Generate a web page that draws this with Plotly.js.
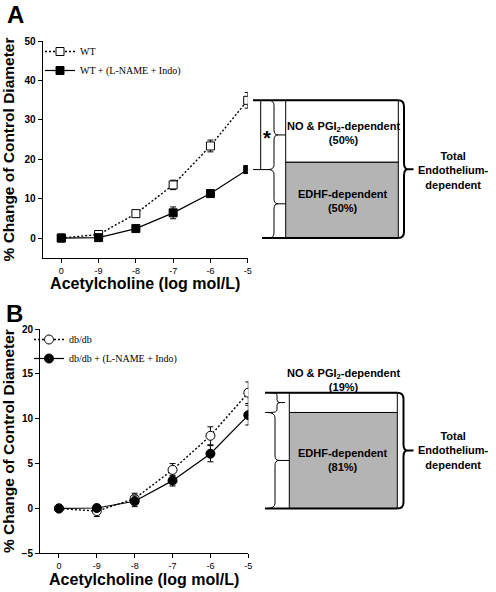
<!DOCTYPE html>
<html><head><meta charset="utf-8">
<script src="https://cdn.plot.ly/plotly-3.0.1.min.js"></script>
<style>body{margin:0;background:#fff}</style>
</head><body><div id="chart" style="width:496px;height:592px"></div>
<script>
// ---- data ----
const doseLabels = ['0', '-9', '-8', '-7', '-6', '-5'];
const wtControl = [0, 0.9, 6.2, 13.5, 23.4, 35.0];
const wtControlErr = [0.3, 0.5, 0.8, 1.2, 1.5, 2.0];
const wtBlocked = [0, 0.1, 2.4, 6.4, 11.3, 17.4];
const wtBlockedErr = [0.2, 0.3, 0.5, 1.5, 1.0, 0.9];
const dbControl = [0, -0.3, 1.1, 4.3, 8.1, 12.9];
const dbControlErr = [0.2, 0.6, 0.6, 0.7, 1.0, 1.2];
const dbBlocked = [0, 0.05, 0.8, 3.1, 6.1, 10.4];
const dbBlockedErr = [0.2, 0.3, 0.6, 0.6, 0.9, 1.1];
const seriesNames = ['WT', 'WT + (L-NAME + Indo)', 'db/db', 'db/db + (L-NAME + Indo)'];
// schematic: total response, drawn split level between the two components, percentages
const schemeTotal = [wtControl[5], dbControl[5]];
const schemeSplit = [19.3, 10.7];
const noPgiPct = ['50%', '19%'];
const edhfPct = ['50%', '81%'];

// ---- helpers (layout positions in page pixels) ----
const W = 496, H = 592;
const PX = v => v / W;
const PY = v => 1 - v / H;

function brace(xe, xs, xa, yTop, yBot, r, tipLen) {
  // right-pointing curly brace; x in paper, y in data units
  const ym = (yTop + yBot) / 2;
  const xt = xs + tipLen;
  return `M${xe},${yTop} Q${xs},${yTop} ${xs},${yTop - r} L${xs},${ym + r} Q${xs},${ym} ${xt},${ym} L${xa},${ym} M${xt},${ym} Q${xs},${ym} ${xs},${ym - r} L${xs},${yBot + r} Q${xs},${yBot} ${xe},${yBot}`;
}

const errStyle = {type: 'data', visible: true, color: '#000', thickness: 1, width: 3};
const dotted = '2px,2px';
const traces = [
  {x: doseLabels, y: wtControl, name: seriesNames[0], type: 'scatter', mode: 'lines+markers',
   xaxis: 'x', yaxis: 'y', legend: 'legend',
   line: {color: '#000', width: 1.4, dash: dotted},
   marker: {symbol: 'square', size: 8, color: '#fff', line: {color: '#000', width: 1}},
   error_y: Object.assign({array: wtControlErr}, errStyle)},
  {x: doseLabels, y: wtBlocked, name: seriesNames[1], type: 'scatter', mode: 'lines+markers',
   xaxis: 'x', yaxis: 'y', legend: 'legend',
   line: {color: '#000', width: 1.2},
   marker: {symbol: 'square', size: 8, color: '#000', line: {color: '#000', width: 1}},
   error_y: Object.assign({array: wtBlockedErr}, errStyle)},
  {x: doseLabels, y: dbControl, name: seriesNames[2], type: 'scatter', mode: 'lines+markers',
   xaxis: 'x2', yaxis: 'y2', legend: 'legend2',
   line: {color: '#000', width: 1.4, dash: dotted},
   marker: {symbol: 'circle', size: 9, color: '#fff', line: {color: '#000', width: 1}},
   error_y: Object.assign({array: dbControlErr}, errStyle)},
  {x: doseLabels, y: dbBlocked, name: seriesNames[3], type: 'scatter', mode: 'lines+markers',
   xaxis: 'x2', yaxis: 'y2', legend: 'legend2',
   line: {color: '#000', width: 1.2},
   marker: {symbol: 'circle', size: 9, color: '#000', line: {color: '#000', width: 1}},
   error_y: Object.assign({array: dbBlockedErr}, errStyle)}
];

const tickX = {family: 'Liberation Sans, Arial, sans-serif', size: 9, color: '#000'};
const tickY = {family: 'Liberation Sans, Arial, sans-serif', size: 10, color: '#000', weight: 'bold'};
const titleFontX = {family: 'Liberation Sans, Arial, sans-serif', size: 16, color: '#000', weight: 'bold'};
const titleFontY = {family: 'Liberation Sans, Arial, sans-serif', size: 15.5, color: '#000', weight: 'bold'};

function xAxis(domain, anchor) {
  return {domain: domain, anchor: anchor, type: 'category', range: [-0.5, 5],
    showline: true, linecolor: '#000', linewidth: 1, ticks: 'outside', ticklen: 4, tickcolor: '#000',
    showgrid: false, zeroline: false, tickfont: tickX, automargin: false,
    title: {text: 'Acetylcholine (log mol/L)', font: titleFontX, standoff: 2}};
}
function yAxis(domain, anchor, range, dtick) {
  return {domain: domain, anchor: anchor, range: range, dtick: dtick, tick0: 0,
    showline: true, linecolor: '#000', linewidth: 1, ticks: 'outside', ticklen: 4, tickcolor: '#000',
    showgrid: false, zeroline: false, tickfont: tickY, automargin: false,
    title: {text: '% Change of Control Diameter', font: titleFontY, standoff: 6}};
}

const shapes = [];
const annotations = [];
const sansB = {family: 'Liberation Sans, Arial, sans-serif', size: 11, color: '#000', weight: 'bold'};
function label(px, py, text, font) {
  annotations.push({xref: 'paper', yref: 'paper', x: PX(px), y: PY(py), xanchor: 'center', yanchor: 'middle',
    text: text, showarrow: false, font: font, align: 'center'});
}

// --- panel A schematic (y in data units of y) ---
(function () {
  const top = schemeTotal[0], split = schemeSplit[0], low = wtBlocked[5], base = 0;
  const yr = 'y';
  const bl = PX(285.7), br = PX(398.3);
  shapes.push({type: 'rect', xref: 'paper', yref: yr, x0: bl, x1: br, y0: base, y1: split,
    fillcolor: '#b4b4b4', line: {color: '#000', width: 1}});
  shapes.push({type: 'rect', xref: 'paper', yref: yr, x0: bl, x1: br, y0: split, y1: top,
    fillcolor: '#fff', line: {color: '#000', width: 1}});
  shapes.push({type: 'line', xref: 'paper', yref: yr, x0: PX(253), x1: br, y0: top, y1: top, line: {color: '#000', width: 2}});
  shapes.push({type: 'line', xref: 'paper', yref: yr, x0: PX(262), x1: br, y0: base, y1: base, line: {color: '#000', width: 2}});
  shapes.push({type: 'line', xref: 'paper', yref: yr, x0: PX(253), x1: PX(269), y0: low, y1: low, line: {color: '#000', width: 1}});
  shapes.push({type: 'line', xref: 'paper', yref: yr, x0: PX(260.7), x1: PX(260.7), y0: low, y1: top, line: {color: '#000', width: 1}});
  shapes.push({type: 'path', xref: 'paper', yref: yr, path: brace(PX(268.5), PX(274), bl, top, low, 1.3, PX(4)),
    line: {color: '#000', width: 1}});
  shapes.push({type: 'path', xref: 'paper', yref: yr, path: brace(PX(268.5), PX(274), bl, low, base, 1.3, PX(4)),
    line: {color: '#000', width: 1}});
  shapes.push({type: 'path', xref: 'paper', yref: yr, path: brace(br, PX(404), PX(413.5), top, base, 1.6, PX(4)),
    line: {color: '#000', width: 2}});
  label(267, 138, '*', {family: 'Liberation Sans, Arial, sans-serif', size: 20, color: '#000', weight: 'bold'});
  label(343, 133, 'NO &amp; PGI<sub>2</sub>-dependent<br>(' + noPgiPct[0] + ')', sansB);
  label(343, 200.5, 'EDHF-dependent<br>(' + edhfPct[0] + ')', sansB);
  label(453, 170, 'Total<br>Endothelium-<br>dependent', sansB);
})();

// --- panel B schematic (y in data units of y2) ---
(function () {
  const top = schemeTotal[1], split = schemeSplit[1], base = 0;
  const yr = 'y2';
  const bl = PX(289.3), br = PX(397.3);
  shapes.push({type: 'rect', xref: 'paper', yref: yr, x0: bl, x1: br, y0: base, y1: split,
    fillcolor: '#b4b4b4', line: {color: '#000', width: 1}});
  shapes.push({type: 'rect', xref: 'paper', yref: yr, x0: bl, x1: br, y0: split, y1: top,
    fillcolor: '#fff', line: {color: '#000', width: 1}});
  shapes.push({type: 'line', xref: 'paper', yref: yr, x0: PX(265), x1: br, y0: top, y1: top, line: {color: '#000', width: 2}});
  shapes.push({type: 'line', xref: 'paper', yref: yr, x0: PX(265), x1: br, y0: base, y1: base, line: {color: '#000', width: 2}});
  shapes.push({type: 'line', xref: 'paper', yref: yr, x0: PX(265), x1: PX(271), y0: split, y1: split, line: {color: '#000', width: 1}});
  shapes.push({type: 'path', xref: 'paper', yref: yr, path: brace(PX(271), PX(277), PX(285), top, split, 0.3, PX(3)),
    line: {color: '#000', width: 1}});
  shapes.push({type: 'path', xref: 'paper', yref: yr, path: brace(PX(267), PX(275), bl, split, base, 0.6, PX(4)),
    line: {color: '#000', width: 1}});
  shapes.push({type: 'path', xref: 'paper', yref: yr, path: brace(br, PX(403.5), PX(413.5), top, base, 0.7, PX(4)),
    line: {color: '#000', width: 2}});
  label(343, 380, 'NO &amp; PGI<sub>2</sub>-dependent<br>(' + noPgiPct[1] + ')', sansB);
  label(343, 460, 'EDHF-dependent<br>(' + edhfPct[1] + ')', sansB);
  label(453, 450.5, 'Total<br>Endothelium-<br>dependent', sansB);
})();

// panel letters
const letterFont = {family: 'Liberation Sans, Arial, sans-serif', size: 24, color: '#000', weight: 'bold'};
label(15, 14, 'A', letterFont);
label(14, 313, 'B', letterFont);

const legendFont = {family: 'Liberation Serif, Times New Roman, serif', size: 10, color: '#000'};
const layout = {
  width: W, height: H,
  margin: {l: 0, r: 0, t: 0, b: 0},
  paper_bgcolor: '#fff', plot_bgcolor: 'rgba(0,0,0,0)',
  showlegend: true,
  xaxis: xAxis([PX(42.7), PX(247.7)], 'y'),
  yaxis: yAxis([PY(257.7), PY(41.3)], 'x', [-5, 50], 10),
  xaxis2: xAxis([PX(40), PX(248.3)], 'y2'),
  yaxis2: yAxis([PY(553.3), PY(329)], 'x2', [-5, 20], 5),
  legend: {x: PX(40), y: PY(37), xanchor: 'left', yanchor: 'top', bgcolor: 'rgba(0,0,0,0)', borderwidth: 0, font: legendFont,
    tracegroupgap: 0, itemwidth: 30},
  legend2: {x: PX(29), y: PY(325), xanchor: 'left', yanchor: 'top', bgcolor: 'rgba(0,0,0,0)', borderwidth: 0, font: legendFont,
    tracegroupgap: 0, itemwidth: 30},
  shapes: shapes,
  annotations: annotations
};

Plotly.newPlot('chart', traces, layout, {displayModeBar: false, staticPlot: true});
</script>
</body></html>
